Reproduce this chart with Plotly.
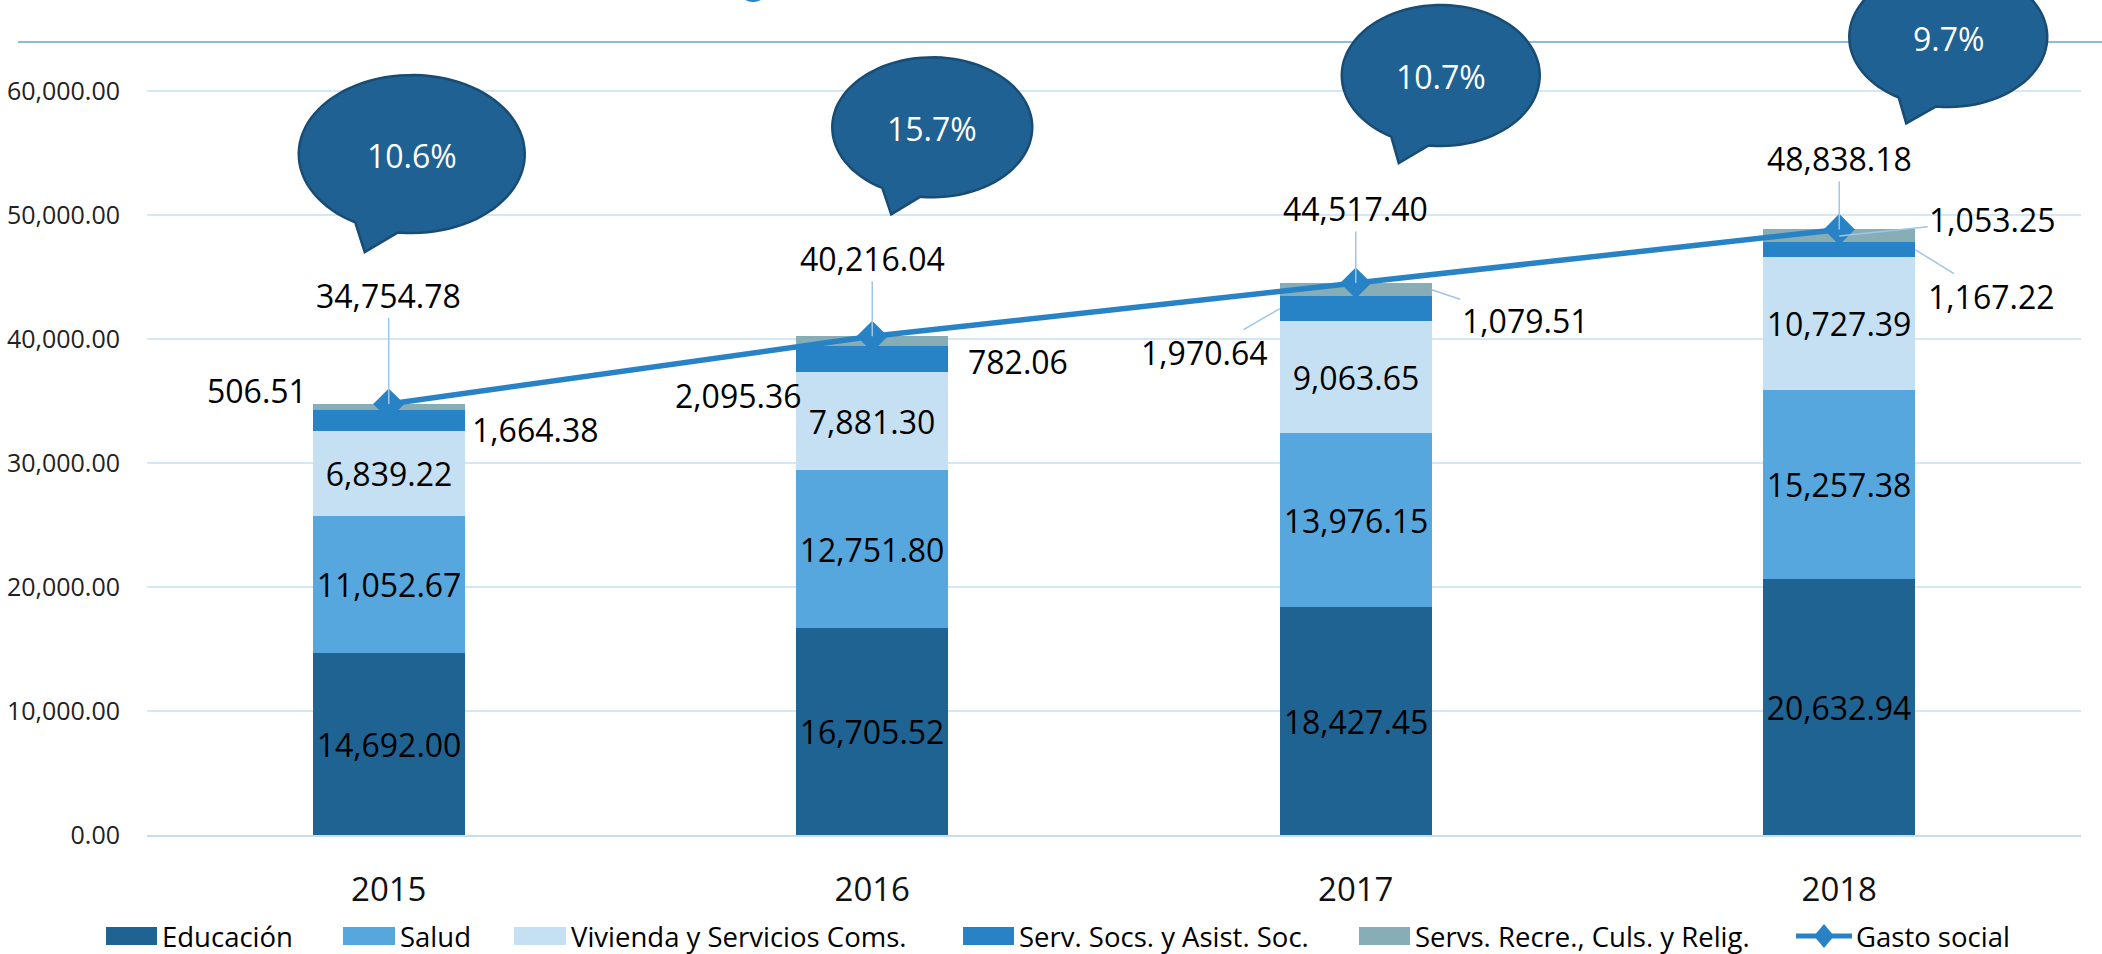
import numpy as np
import plotly.graph_objects as go

# ---------------- data ----------------
years = ["2015", "2016", "2017", "2018"]
educacion = [14692.00, 16705.52, 18427.45, 20632.94]
salud = [11052.67, 12751.80, 13976.15, 15257.38]
vivienda = [6839.22, 7881.30, 9063.65, 10727.39]
serv_socs = [1664.38, 2095.36, 1970.64, 1167.22]
servs_recre = [506.51, 782.06, 1079.51, 1053.25]
gasto_social = [34754.78, 40216.04, 44517.40, 48838.18]
variacion = ["10.6%", "15.7%", "10.7%", "9.7%"]
y_ticks = [0, 10000, 20000, 30000, 40000, 50000, 60000]

series_names = ["Educación", "Salud", "Vivienda y Servicios Coms.",
                "Serv. Socs. y Asist. Soc.", "Servs. Recre., Culs. y Relig.",
                "Gasto social"]

# ---------------- styles / layout ----------------
colors = ["#1F6393", "#56A7DD", "#C5E0F3", "#2882C6", "#87ADB6"]
line_color = "#2882C6"
bubble_fill = "#1F6193"
bubble_edge = "#184C74"
leader_color = "#9DC6E8"
grid_color = "#D5E7F5"
FONT = "Open Sans"

W, H = 2102, 954
ML, MR, MT, MB = 147, 21, 0, 119
PW, PH = W - ML - MR, H - MT - MB
Y_MAX = 67339
BAR_W = 0.314

xs = list(range(len(years)))

fig = go.Figure()

stack = [educacion, salud, vivienda, serv_socs, servs_recre]
for k, vals in enumerate(stack):
    inside = k < 3
    fig.add_trace(go.Bar(
        x=xs, y=vals, name=series_names[k], width=BAR_W,
        marker=dict(color=colors[k], line=dict(width=0)),
        text=[f"{v:,.2f}" for v in vals] if inside else None,
        textposition="inside" if inside else "none",
        insidetextanchor="middle", constraintext="none",
        insidetextfont=dict(family=FONT, size=32, color="#000000"),
        showlegend=False,
    ))

fig.add_trace(go.Scatter(
    x=xs, y=gasto_social, name=series_names[5], mode="lines+markers",
    line=dict(color=line_color, width=5.5),
    marker=dict(symbol="diamond", size=24, color=line_color),
    showlegend=False, cliponaxis=False,
))

annotations = []
shapes = []

def pxx(p):
    return (p - ML) / PW

def pxy(p):
    return (PH + MT - p) / PH

# ----- decorative marks at top (drawn first, under the bubbles)
shapes.append(dict(type="line", xref="paper", yref="paper", x0=pxx(18), x1=pxx(2102),
                   y0=pxy(42), y1=pxy(42), line=dict(color="#8DBAE2", width=2)))
shapes.append(dict(type="circle", xref="paper", yref="paper", x0=pxx(738), x1=pxx(768),
                   y0=pxy(-26), y1=pxy(2), fillcolor="#2B7FC4", line=dict(width=0)))

# ----- labels of the two small segments (offsets in px, side of bar for leader tip)
serv_pos = [(146, 9, False, 0), (-134, 36, False, 0), (-76, 44, True, -1), (76, 47, True, 1)]
recre_pos = [(-132, -17, False, 0), (146, 20, False, 0), (93, 31, True, 1), (153, -16, True, 0)]

def seg_label(i, base, val, pos):
    dx, dy, leader, side = pos
    xc = xs[i] + side * BAR_W / 2
    yc = base + val / 2
    txt = f"{val:,.2f}"
    if leader:
        annotations.append(dict(x=xc, y=yc, xref="x", yref="y", text=txt,
                                showarrow=True, ax=dx, ay=dy, arrowhead=0,
                                arrowwidth=1.5, arrowcolor=leader_color, standoff=0,
                                font=dict(family=FONT, size=32, color="#000")))
    else:
        annotations.append(dict(x=xc, y=yc, xref="x", yref="y", text=txt,
                                showarrow=False, xshift=dx, yshift=-dy,
                                font=dict(family=FONT, size=32, color="#000")))

for i in xs:
    base3 = educacion[i] + salud[i] + vivienda[i]
    seg_label(i, base3, serv_socs[i], serv_pos[i])
    seg_label(i, base3 + serv_socs[i], servs_recre[i], recre_pos[i])

# ----- total labels with leader
total_dy = [-109, -78, -74.5, -71]
for i in xs:
    annotations.append(dict(x=xs[i], y=gasto_social[i], xref="x", yref="y",
                            text=f"{gasto_social[i]:,.2f}", showarrow=True,
                            ax=0, ay=total_dy[i], arrowhead=0, arrowwidth=1.5,
                            arrowcolor=leader_color, standoff=0,
                            font=dict(family=FONT, size=32, color="#000")))

# ----- speech bubbles (pixel offsets from the Gasto social point, y up)
bubbles = [
    ((23, 250), 113, 79, (-24, 152)),
    ((60, 209), 100, 70, (19, 122)),
    ((85, 207.5), 99, 70.5, (43, 120)),
    ((109, 192.4), 99, 70, (67, 106)),
]
for i, ((cx, cy), rx, ry, (tx, ty)) in enumerate(bubbles):
    a = np.radians(np.linspace(263, 240 + 360, 90))
    px = cx + rx * np.cos(a)
    py = cy + ry * np.sin(a)
    pts = [f"{x:.1f},{y:.1f}" for x, y in zip(px, py)]
    path = "M" + " L".join(pts) + f" L{tx},{ty} Z"
    shapes.append(dict(type="path", xref="x", yref="y", xsizemode="pixel",
                       ysizemode="pixel", xanchor=xs[i], yanchor=gasto_social[i],
                       path=path, fillcolor=bubble_fill,
                       line=dict(color=bubble_edge, width=2.5), layer="above"))
    annotations.append(dict(x=xs[i], y=gasto_social[i], xref="x", yref="y",
                            text=variacion[i], showarrow=False,
                            xshift=cx, yshift=cy - 1,
                            font=dict(family=FONT, size=32, color="#FFFFFF")))

# ----- custom legend
leg_y = 936
leg_items = [(106, 157), (343, 395), (514, 566), (963, 1014), (1359, 1410)]
for k, (x0, x1) in enumerate(leg_items):
    shapes.append(dict(type="rect", xref="paper", yref="paper",
                       x0=pxx(x0), x1=pxx(x1), y0=pxy(leg_y + 9), y1=pxy(leg_y - 9),
                       fillcolor=colors[k], line=dict(width=0)))
    annotations.append(dict(x=pxx(x1 + 4), y=pxy(leg_y), xref="paper", yref="paper",
                            text=series_names[k], showarrow=False, xanchor="left",
                            yanchor="middle", borderpad=0,
                            font=dict(family=FONT, size=27.5, color="#000")))
shapes.append(dict(type="line", xref="paper", yref="paper", x0=pxx(1796), x1=pxx(1852),
                   y0=pxy(leg_y), y1=pxy(leg_y), line=dict(color=line_color, width=5)))
dc = 1824
shapes.append(dict(type="path", xref="paper", yref="paper",
                   path=(f"M{pxx(dc-10)},{pxy(leg_y)} L{pxx(dc)},{pxy(leg_y-12)} "
                         f"L{pxx(dc+10)},{pxy(leg_y)} L{pxx(dc)},{pxy(leg_y+12)} Z"),
                   fillcolor=line_color, line=dict(width=0)))
annotations.append(dict(x=pxx(1855), y=pxy(leg_y), xref="paper", yref="paper",
                        text=series_names[5], showarrow=False, xanchor="left",
                        yanchor="middle", borderpad=0,
                        font=dict(family=FONT, size=27.5, color="#000")))

fig.update_layout(
    width=W, height=H,
    margin=dict(l=ML, r=MR, t=MT, b=MB, pad=0),
    plot_bgcolor="white", paper_bgcolor="white",
    barmode="stack", bargap=0,
    showlegend=False,
    font=dict(family=FONT, color="#000"),
    xaxis=dict(range=[-0.5, len(years) - 0.5], tickvals=xs, ticktext=years,
               showgrid=False, zeroline=False, showline=True,
               linecolor="#C6DDF1", linewidth=2, ticks="",
               tickfont=dict(family=FONT, size=33, color="#111"),
               ticklabelstandoff=24),
    yaxis=dict(range=[0, Y_MAX], tickvals=y_ticks, tickformat=",.2f",
               showgrid=True, gridcolor=grid_color, gridwidth=2,
               zeroline=False, showline=False, ticks="",
               tickfont=dict(family=FONT, size=25, color="#222"),
               ticklabelstandoff=26),
    annotations=annotations,
    shapes=shapes,
)

fig.write_html(
    "out.html",
    config={"displayModeBar": False},
    post_script="document.body.style.margin='0px';document.body.style.overflow='hidden';",
)
